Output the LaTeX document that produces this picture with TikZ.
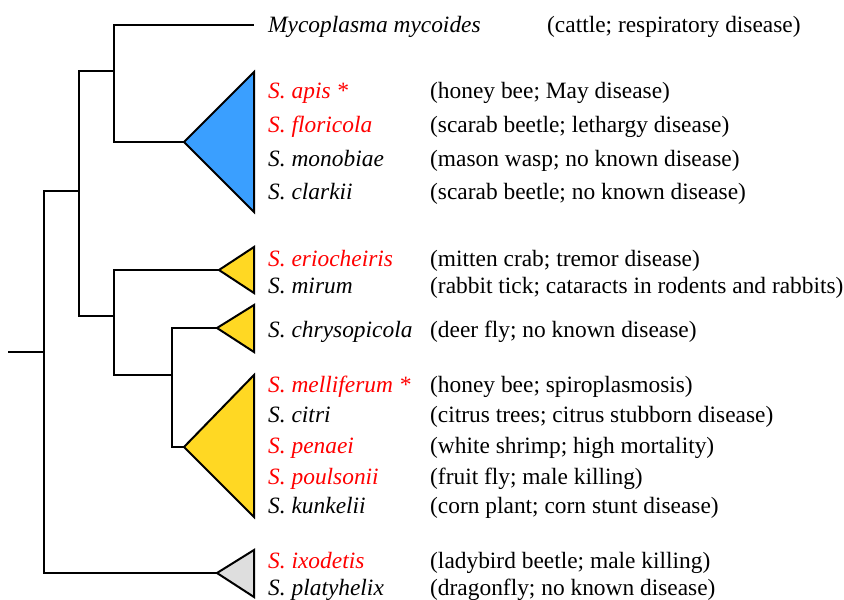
\documentclass[tikz,border=0pt]{standalone}
\usepackage{fontspec}
\setmainfont{Liberation Serif}
\definecolor{cladeblue}{HTML}{3A9FFF}
\definecolor{cladeyellow}{HTML}{FFD823}
\definecolor{cladegray}{HTML}{DEDEDE}
\definecolor{pathred}{HTML}{FF0000}
\begin{document}
\begin{tikzpicture}[x=1pt,y=-1pt,
  branch/.style={line width=2pt,line cap=rect},
  clade/.style={draw=black,line width=2pt,line join=miter},
  sp/.style={anchor=base west,inner sep=0pt,font=\fontsize{23.4}{27}\selectfont\itshape},
  path/.style={sp,text=pathred},
  desc/.style={anchor=base west,inner sep=0pt,font=\fontsize{23.4}{27}\selectfont}]
\useasboundingbox (0,0) rectangle (844,600);
% internal nodes and tips
\coordinate (stub) at (9,352);
\coordinate (root) at (44,352);
\coordinate (n1) at (79,191);
\coordinate (n2) at (114,71);
\coordinate (n3) at (114,316);
\coordinate (n4) at (172,375);
\coordinate (myco) at (253,25);
\coordinate (tblue) at (184,142);
\coordinate (terio) at (219,270);
\coordinate (tchry) at (217,328);
\coordinate (tcitri) at (184,447);
\coordinate (tixo) at (217,573);
% triangles
\filldraw[clade,fill=cladeblue] (tblue) -- (254,72) -- (254,212) -- cycle;
\filldraw[clade,fill=cladeyellow] (terio) -- (254,247) -- (254,293) -- cycle;
\filldraw[clade,fill=cladeyellow] (tchry) -- (254,305) -- (254,352) -- cycle;
\filldraw[clade,fill=cladeyellow] (tcitri) -- (254,375) -- (254,517) -- cycle;
\filldraw[clade,fill=cladegray] (tixo) -- (254,550) -- (254,597) -- cycle;
% branches
\draw[branch] (stub) -- (root);
\draw[branch] (root) |- (n1);
\draw[branch] (root) |- (tixo);
\draw[branch] (n1) |- (n2);
\draw[branch] (n1) |- (n3);
\draw[branch] (n2) |- (myco);
\draw[branch] (n2) |- (tblue);
\draw[branch] (n3) |- (terio);
\draw[branch] (n3) |- (n4);
\draw[branch] (n4) |- (tchry);
\draw[branch] (n4) |- (tcitri);
% species labels
\node[sp] (l0) at (268,32) {Mycoplasma mycoides};
\node[path] (l1) at (268,98) {S. apis *};
\node[path] (l2) at (268,132) {S. floricola};
\node[sp] (l3) at (268,166) {S. monobiae};
\node[sp] (l4) at (268,199) {S. clarkii};
\node[path] (l5) at (268,266) {S. eriocheiris};
\node[sp] (l6) at (268,293) {S. mirum};
\node[sp] (l7) at (268,337) {S. chrysopicola};
\node[path] (l8) at (268,392) {S. melliferum *};
\node[sp] (l9) at (268,422) {S. citri};
\node[path] (l10) at (268,453) {S. penaei};
\node[path] (l11) at (268,484) {S. poulsonii};
\node[sp] (l12) at (268,513) {S. kunkelii};
\node[path] (l13) at (268,568) {S. ixodetis};
\node[sp] (l14) at (268,595) {S. platyhelix};
% descriptions
\node[desc] (d0) at (547,32) {(cattle; respiratory disease)};
\node[desc] (d1) at (430,98) {(honey bee; May disease)};
\node[desc] (d2) at (430,132) {(scarab beetle; lethargy disease)};
\node[desc] (d3) at (430,166) {(mason wasp; no known disease)};
\node[desc] (d4) at (430,199) {(scarab beetle; no known disease)};
\node[desc] (d5) at (430,266) {(mitten crab; tremor disease)};
\node[desc] (d6) at (430,293) {(rabbit tick; cataracts in rodents and rabbits)};
\node[desc] (d7) at (430,337) {(deer fly; no known disease)};
\node[desc] (d8) at (430,392) {(honey bee; spiroplasmosis)};
\node[desc] (d9) at (430,422) {(citrus trees; citrus stubborn disease)};
\node[desc] (d10) at (430,453) {(white shrimp; high mortality)};
\node[desc] (d11) at (430,484) {(fruit fly; male killing)};
\node[desc] (d12) at (430,513) {(corn plant; corn stunt disease)};
\node[desc] (d13) at (430,568) {(ladybird beetle; male killing)};
\node[desc] (d14) at (430,595) {(dragonfly; no known disease)};
\end{tikzpicture}
\end{document}
